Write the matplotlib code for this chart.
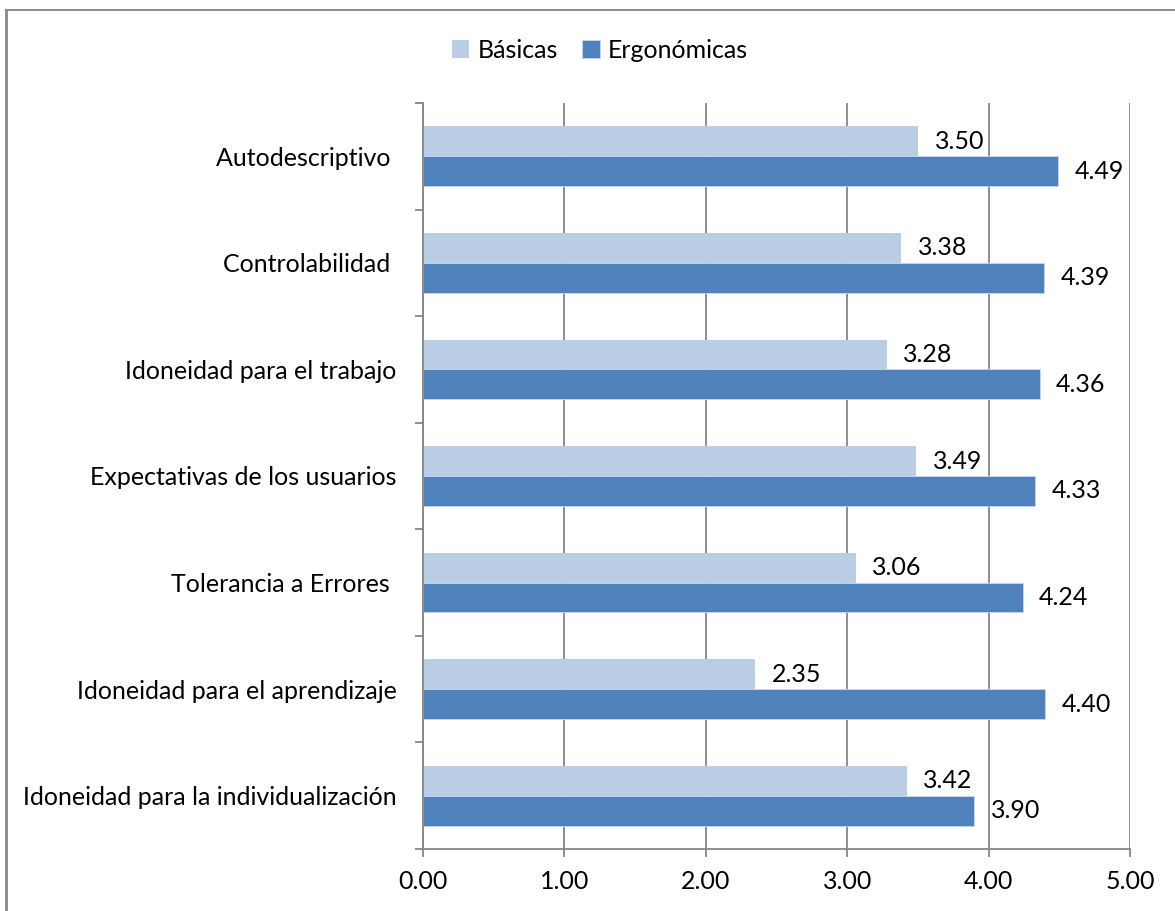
import numpy as np
import matplotlib
matplotlib.use("Agg")
import matplotlib.pyplot as plt
from matplotlib.lines import Line2D

plt.rcParams['font.family'] = ['Lato', 'DejaVu Sans']

# datos (de arriba hacia abajo)
categorias = ["Autodescriptivo ", "Controlabilidad ", "Idoneidad para el trabajo",
              "Expectativas de los usuarios", "Tolerancia a Errores ",
              "Idoneidad para el aprendizaje", "Idoneidad para la individualización"]
basicas = [3.50, 3.38, 3.28, 3.49, 3.06, 2.35, 3.42]
ergonomicas = [4.49, 4.39, 4.36, 4.33, 4.24, 4.40, 3.90]
xticks = [0, 1, 2, 3, 4, 5]

c_bas = "#B9CDE5"
c_erg = "#4F81BD"
gris = "#868686"
fs = 18

fig = plt.figure(figsize=(11.75, 9.11), dpi=100)
ax = fig.add_axes([0.360, 0.068, 0.6017, 0.819])

n = len(categorias)
y = np.arange(n)[::-1]
h = 0.28
b1 = ax.barh(y + h / 2, basicas, height=h, color=c_bas, label="Básicas")
b2 = ax.barh(y - h / 2, ergonomicas, height=h, color=c_erg, edgecolor="#C9D7EA",
             linewidth=0.6, label="Ergonómicas")

for bars, vals in ((b1, basicas), (b2, ergonomicas)):
    for r, v in zip(bars, vals):
        ax.annotate(f"{v:.2f}", (v, r.get_y() + r.get_height() / 2),
                    xytext=(12, 0), textcoords="offset points",
                    va="center", ha="left", fontsize=fs)

ax.set_xlim(0, 5)
ax.set_ylim(-0.5, n - 0.5)
ax.set_xticks(xticks)
ax.set_xticklabels([f"{t:.2f}" for t in xticks], fontsize=fs)
ax.set_yticks(y)
ax.set_yticklabels(categorias, fontsize=fs)
ax.set_yticks(np.arange(n + 1) - 0.5, minor=True)

ax.tick_params(axis="y", which="major", length=0, pad=19)
ax.tick_params(axis="y", which="minor", length=6, width=1.3, color=gris, direction="out")
ax.tick_params(axis="x", length=6, width=1.3, color=gris, direction="out", pad=9)

ax.grid(axis="x", color=gris, linewidth=1.3)
ax.set_axisbelow(True)
for s in ("top", "right"):
    ax.spines[s].set_visible(False)
for s in ("left", "bottom"):
    ax.spines[s].set_color(gris)
    ax.spines[s].set_linewidth(1.3)

fig.legend(loc="center", bbox_to_anchor=(600 / 1175, 1 - 50 / 911), ncol=2,
           frameon=False, fontsize=fs, handlelength=0.7, handleheight=0.7,
           handletextpad=0.35, columnspacing=0.95)

# marco del gráfico
fig.add_artist(Line2D([6 / 1175, 6 / 1175], [0, 1 - 10 / 911], color=gris, lw=2,
                      transform=fig.transFigure))
fig.add_artist(Line2D([6 / 1175, 1], [1 - 10 / 911, 1 - 10 / 911], color=gris, lw=1.3,
                      transform=fig.transFigure))

fig.savefig("out.png", dpi=100)
